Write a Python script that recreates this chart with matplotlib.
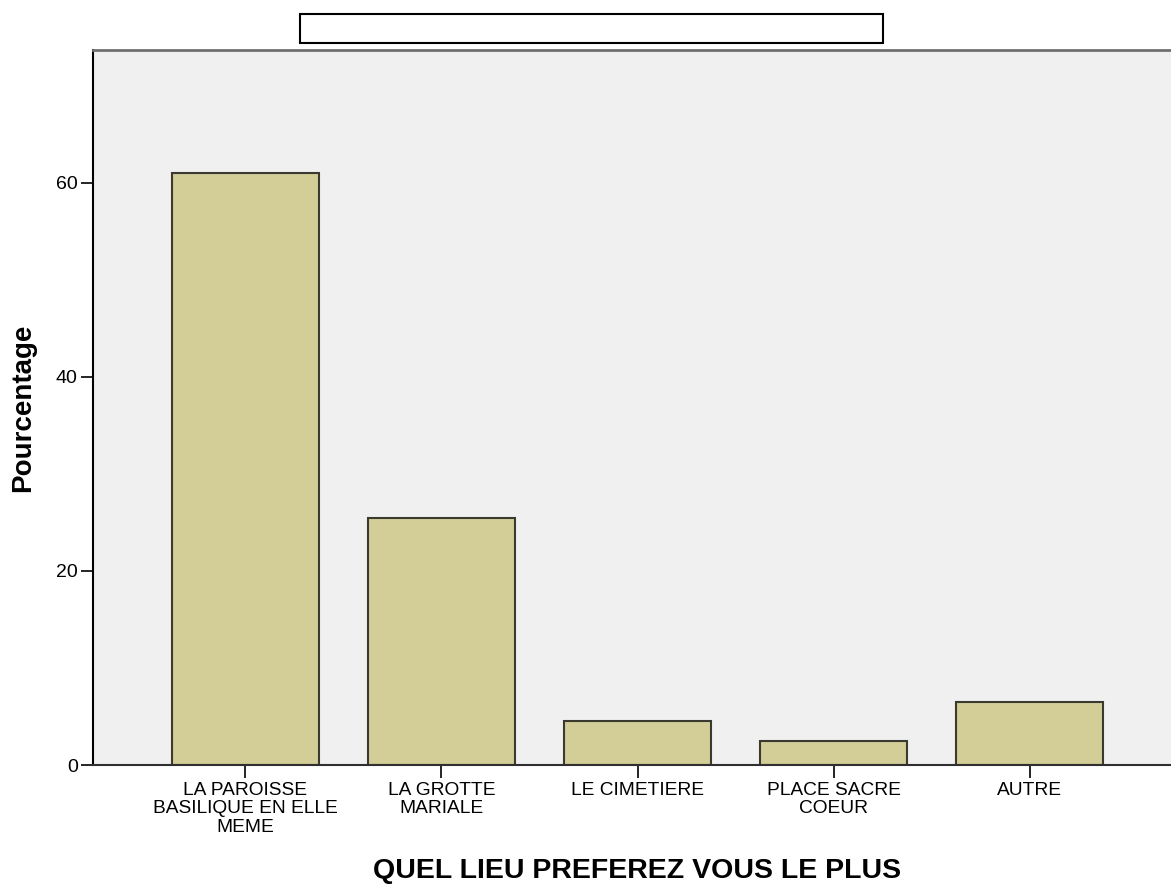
import matplotlib.pyplot as plt
from matplotlib.patches import Rectangle

plt.rcParams['font.family'] = ['Liberation Sans', 'DejaVu Sans']

categories = ["LA PAROISSE\nBASILIQUE EN ELLE\nMEME", "LA GROTTE\nMARIALE", "LE CIMETIERE",
              "PLACE SACRE\nCOEUR", "AUTRE"]
percentages = [61.0, 25.5, 4.5, 2.5, 6.5]
yticks = [0, 20, 40, 60]

fig = plt.figure(figsize=(11.71, 8.84), dpi=100)
ax = fig.add_axes([93/1171, 119/884, 1089/1171, 715/884])
ax.set_facecolor("#f0f0f0")

x = range(len(categories))
ax.bar(x, percentages, width=0.75, color="#d3ce97", edgecolor="#3a3a30", linewidth=1.5, zorder=2)

ax.set_xlim(-0.778, len(categories) - 0.222)
ax.set_ylim(0, 73.7)
ax.set_yticks(yticks)
ax.set_xticks(list(x))
ax.set_xticklabels(categories, fontsize=13.8, linespacing=1.12)
ax.tick_params(axis='y', labelsize=14, length=9, width=1.2, pad=2)
ax.tick_params(axis='x', length=9, width=1.2, pad=3)

ax.spines["right"].set_visible(False)
ax.spines["top"].set_color("#707070")
ax.spines["top"].set_linewidth(2)
ax.spines["left"].set_linewidth(1.5)
ax.spines["bottom"].set_linewidth(1.5)
ax.spines["bottom"].set_color("#303030")

ax.set_ylabel("Pourcentage", fontsize=20, fontweight="bold", labelpad=14)
ax.set_xlabel("QUEL LIEU PREFEREZ VOUS LE PLUS", fontsize=20.5, fontweight="bold", labelpad=16)

# redacted title box
fig.patches.append(Rectangle((300/1171, 1 - 43/884), 583/1171, 29/884, transform=fig.transFigure,
                             facecolor="white", edgecolor="black", linewidth=1.5))

fig.savefig("out.png", dpi=100)
